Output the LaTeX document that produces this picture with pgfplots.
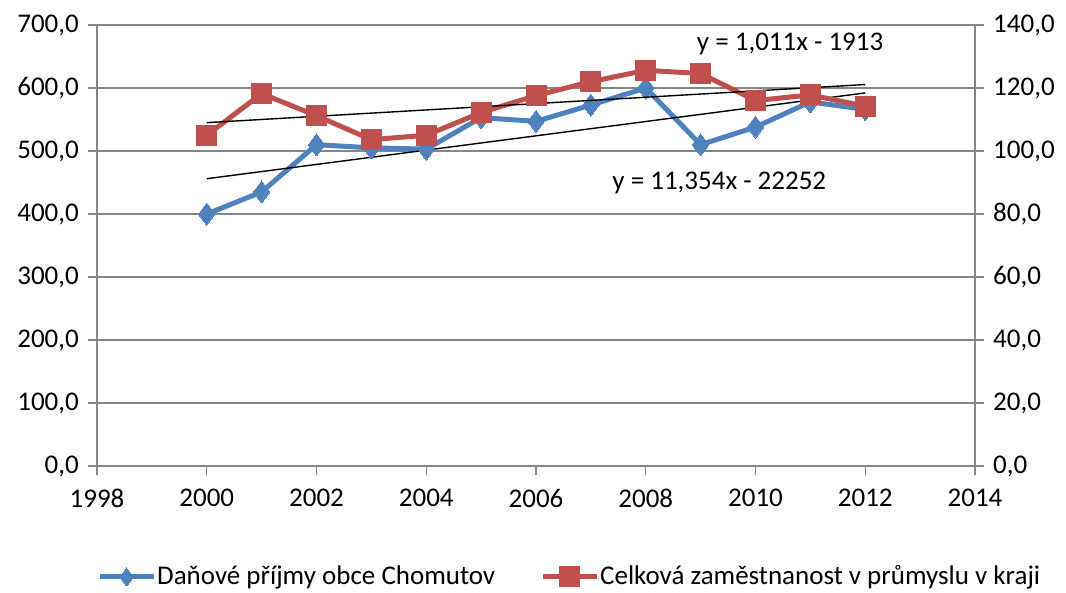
\documentclass[border=0pt]{standalone}
\usepackage{pgfplots}
\pgfplotsset{compat=1.18}
\usepackage{fontspec}
\setmainfont{Carlito}
\definecolor{xblue}{RGB}{79,129,189}
\definecolor{xred}{RGB}{192,80,77}
\definecolor{xgrid}{RGB}{134,134,134}
\newcommand{\cf}{\fontsize{27pt}{31pt}\selectfont}
\begin{document}
\cf
\begin{tikzpicture}
\useasboundingbox (0,0) rectangle (1066pt,592pt);
\pgfplotsset{
  common/.style={
    at={(97pt,126pt)}, anchor=south west,
    scale only axis, width=878pt, height=441pt,
    xmin=1998, xmax=2014, ymin=0,
    xtick={1998,2000,...,2014},
    /pgf/number format/assume math mode=true,
    tick label style={font=\cf},
    axis line style={xgrid, line width=1.2pt},
    major tick length=9pt,
    tick style={xgrid, line width=1.2pt},
    clip=false,
  }
}
\begin{axis}[common,
  ymax=700, ytick={0,100,...,700},
  axis y line*=left, axis x line*=bottom,
  xtick pos=bottom, ytick pos=left,
  tick align=outside,
  ymajorgrids, grid style={xgrid, line width=1.2pt},
  xticklabel style={/pgf/number format/1000 sep={}, yshift=-5pt},
  yticklabel style={/pgf/number format/.cd, use comma, fixed, fixed zerofill, precision=1},
]
\addplot[xblue, line width=5pt, mark=diamond*, mark size=11pt, mark options={solid, fill=xblue, draw=xblue, line width=0pt}] coordinates {
(2000,400) (2001,435) (2002,510) (2003,505) (2004,503) (2005,553) (2006,547) (2007,573) (2008,600) (2009,510) (2010,538) (2011,578) (2012,566)};
\addplot[black, line width=1.4pt] coordinates {(2000,456.0) (2012,592.2)};
\node[anchor=west, inner sep=0pt, font=\cf] at (axis cs:2007.39,449) {y = 11,354x - 22252};
\end{axis}
\begin{axis}[common,
  ymax=140, ytick={0,20,...,140},
  axis y line*=right, axis x line=none,
  ytick pos=right, tick align=outside,
  yticklabel style={/pgf/number format/.cd, use comma, fixed, fixed zerofill, precision=1},
  legend style={at={(0,-0.2517)}, anchor=west, draw=none, fill=none,
    legend columns=2, font=\cf,
    /tikz/every even column/.append style={column sep=44pt},
    inner sep=0pt, nodes={inner sep=1pt}},
  legend image code/.code={
    \draw[#1, mark repeat=2, mark phase=2] plot coordinates {(0pt,0pt) (27pt,0pt) (54pt,0pt)};
  },
]
\addlegendimage{xblue, line width=5pt, mark=diamond*, mark size=9pt, mark options={solid, fill=xblue, draw=xblue, line width=0pt}}
\addlegendentry{Daňové příjmy obce Chomutov}
\addplot[xred, line width=5pt, mark=square*, mark size=10pt, mark options={solid, fill=xred, draw=xred, line width=0pt}] coordinates {
(2000,105.0) (2001,118.2) (2002,111.2) (2003,103.6) (2004,105.0) (2005,112.2) (2006,117.6) (2007,122.0) (2008,125.6) (2009,124.6) (2010,116.0) (2011,117.8) (2012,114.2)};
\addlegendentry{Celková zaměstnanost v průmyslu v kraji}
\addplot[black, line width=1.4pt, forget plot] coordinates {(2000,109.0) (2012,121.1)};
\node[anchor=west, inner sep=0pt, font=\cf] at (axis cs:2008.93,134) {y = 1,011x - 1913};
\end{axis}
\end{tikzpicture}
\end{document}
